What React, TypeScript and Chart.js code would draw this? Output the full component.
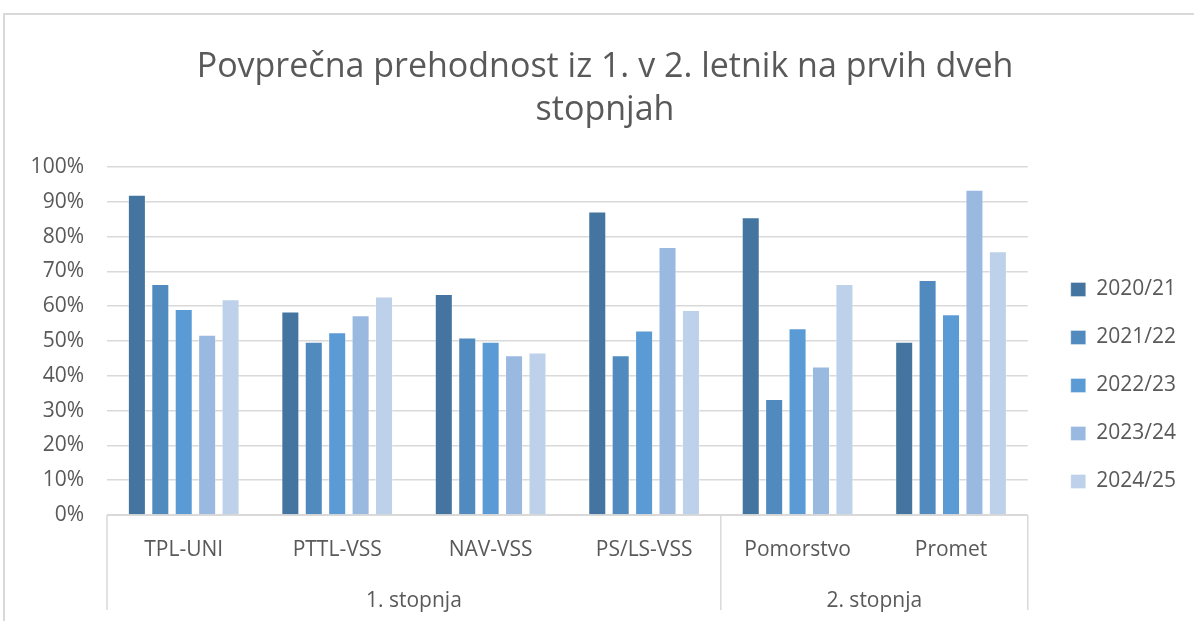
import React, { useEffect, useRef } from "react";
import { Chart, registerables } from "chart.js";

Chart.register(...registerables);

const categories = ["TPL-UNI", "PTTL-VSS", "NAV-VSS", "PS/LS-VSS", "Pomorstvo", "Promet"];
const groupLabels = ["1. stopnja", "2. stopnja"];
const groupSizes = [4, 2];
const seriesNames = ["2020/21", "2021/22", "2022/23", "2023/24", "2024/25"];
const s2020 = [92, 58.5, 63.5, 87.2, 85.6, 49.8];
const s2021 = [66.4, 49.8, 51, 45.9, 33.3, 67.5];
const s2022 = [59.2, 52.5, 49.8, 53, 53.7, 57.7];
const s2023 = [51.8, 57.4, 45.9, 77, 42.7, 93.5];
const s2024 = [62, 62.8, 46.7, 58.9, 66.4, 75.8];
const seriesValues = [s2020, s2021, s2022, s2023, s2024];
const seriesColors = ["#4375A0", "#508ABE", "#5B9BD5", "#9AB9E0", "#BED1EA"];
const yTicks = [0, 10, 20, 30, 40, 50, 60, 70, 80, 90, 100];

const FONT = "'Open Sans', 'Noto Sans', sans-serif";
const TEXT = "#595959";
const GRID = "#d9d9d9";

const groupAxisPlugin = {
  id: "groupAxis",
  afterDraw(chart: any) {
    const { ctx, chartArea } = chart;
    const x = chart.scales.x;
    const top = chartArea.bottom;
    const bottom = 610;
    const half = (x.getPixelForValue(1) - x.getPixelForValue(0)) / 2;
    const bounds: number[] = [chartArea.left];
    let idx = 0;
    groupSizes.forEach((n) => {
      idx += n;
      bounds.push(x.getPixelForValue(idx - 1) + half);
    });
    ctx.save();
    ctx.strokeStyle = GRID;
    ctx.lineWidth = 1.5;
    bounds.forEach((bx) => {
      ctx.beginPath();
      ctx.moveTo(bx, top);
      ctx.lineTo(bx, bottom);
      ctx.stroke();
    });
    ctx.fillStyle = TEXT;
    ctx.font = `21px ${FONT}`;
    ctx.textAlign = "center";
    ctx.textBaseline = "middle";
    groupLabels.forEach((g, i) => {
      ctx.fillText(g, (bounds[i] + bounds[i + 1]) / 2, 601);
    });
    ctx.restore();
  },
};

export default function App() {
  const ref = useRef<HTMLCanvasElement>(null);
  useEffect(() => {
    if (!ref.current) return;
    const chart = new Chart(ref.current, {
      type: "bar",
      data: {
        labels: categories,
        datasets: seriesNames.map((name, i) => ({
          label: name,
          data: seriesValues[i],
          backgroundColor: seriesColors[i],
          borderColor: "rgba(255,255,255,0.35)",
          borderWidth: 1,
          categoryPercentage: 0.763,
          barPercentage: 0.77,
        })),
      },
      options: {
        animation: false,
        responsive: false,
        layout: { padding: { left: 24, right: 8, top: 0, bottom: 0 } },
        plugins: {
          title: {
            display: true,
            text: ["Povprečna prehodnost iz 1. v 2. letnik na prvih dveh", "stopnjah"],
            color: TEXT,
            font: { family: FONT, size: 34, weight: "normal", lineHeight: 1.265 },
            padding: { top: 46, bottom: 35 },
          },
          legend: {
            position: "right",
            title: {
              display: true,
              text: " ",
              font: { size: 10, lineHeight: 1 },
              padding: { top: 70, bottom: 70 },
            },
            labels: {
              color: TEXT,
              font: { family: FONT, size: 21 },
              boxWidth: 15,
              boxHeight: 14,
              padding: 27,
            },
          },
          tooltip: { enabled: false },
        },
        scales: {
          x: {
            grid: { display: false, drawTicks: false },
            border: { display: true, color: GRID },
            ticks: { color: TEXT, font: { family: FONT, size: 21 }, padding: 22, maxRotation: 0 },
            afterFit: (s: any) => {
              s.height = 106;
            },
          },
          y: {
            min: 0,
            max: 100,
            afterBuildTicks: (s: any) => {
              s.ticks = yTicks.map((v) => ({ value: v }));
            },
            grid: { color: GRID, lineWidth: 1.5, drawTicks: false },
            border: { display: false },
            ticks: {
              color: TEXT,
              font: { family: FONT, size: 21 },
              padding: 23,
              callback: (v: any) => v + "%",
            },
            afterFit: (s: any) => {
              s.width = 83;
            },
          },
          y2: {
            position: "right",
            display: true,
            grid: { display: false, drawTicks: false },
            border: { display: false },
            ticks: { display: false },
            afterFit: (s: any) => {
              s.width = 16;
            },
          },
        },
      },
      plugins: [groupAxisPlugin],
    } as any);
    return () => chart.destroy();
  }, []);
  return (
    <div style={{ position: "fixed", left: 0, top: 0, width: 1194, height: 621, background: "#fff" }}>
      <canvas ref={ref} width={1194} height={621} style={{ position: "absolute", left: 0, top: 0 }} />
      <div
        style={{
          position: "absolute",
          left: 3,
          top: 13,
          width: 1200,
          height: 620,
          borderLeft: `2px solid ${GRID}`,
          borderTop: `2px solid ${GRID}`,
          pointerEvents: "none",
        }}
      />
    </div>
  );
}
